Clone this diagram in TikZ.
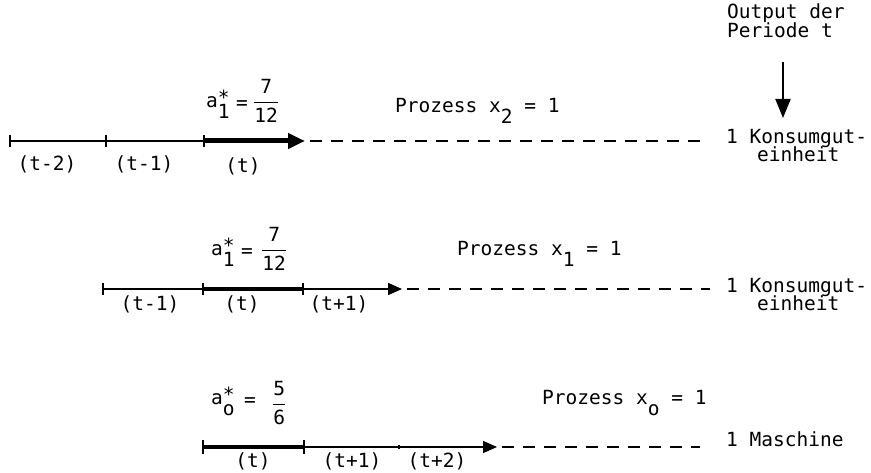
\documentclass[tikz,border=0pt]{standalone}
\usepackage{fontspec}
\setmonofont{DejaVu Sans Mono}
\usetikzlibrary{arrows.meta,positioning}
\newcommand\supsub[2]{\rlap{\raisebox{.15em}{#1}}\raisebox{-.6em}{#2}}
\newcommand\lowr[1]{\raisebox{-.6em}{#1}}
\newcommand\bruch[2]{$\displaystyle{\mbox{#1}\above1.5pt\mbox{#2}}$}

\begin{document}
\begin{tikzpicture}[x=1pt,y=-1pt,
 every node/.style={font=\ttfamily\fontsize{19.5}{23}\selectfont,inner sep=0pt},
 lbl/.style={anchor=mid west},
 ln/.style={line width=1.5pt},
 dsh/.style={line width=1.5pt,dash pattern=on 12pt off 9pt},
 thk/.style={line width=4pt},
 arr/.style={line width=1.5pt,-{Triangle[length=14pt,width=12pt]}}]
\useasboundingbox (0,0) rectangle (871,473);

% output of period t
\node[lbl] (o1) at (727,16) {Output der};
\node[lbl] (o2) at (727,35) {Periode t};
\coordinate (ot) at (783,62);
\coordinate (ob) at (783,118);
\draw[line width=2pt,-{Triangle[length=19pt,width=15pt]}] (ot)--(ob);

% process x2
\coordinate (r1a) at (10,141);\coordinate (r1b) at (106,141);\coordinate (r1c) at (204,141);
\coordinate (r1d) at (305,141);\coordinate (r1e) at (708,141);
\draw[ln](r1a)--(r1c);
\draw[line width=5pt,-{Triangle[length=17pt,width=15pt]}](r1c)--(r1d);
\draw[dsh]([xshift=5pt]r1d)--(r1e);
\foreach \c in {r1a,r1b,r1c} \draw[ln]([yshift=6pt]\c)--([yshift=-6pt]\c);
\node (p1a) at (47,164) {(t-2)};
\node (p1b) at (144,164) {(t-1)};
\node (p1c) at (243,166) {(t)};
\node[lbl] (a1) at (206,105) {a\supsub{*}{1}};
\node (e1) at (242,105) {=};
\node[anchor=west] (f1) at (253,101) {\bruch{7}{12}};
\node[lbl] (x2) at (395,110) {Prozess x\lowr{2} = 1};
\node[lbl] (k1) at (726,141) {1 Konsumgut-};
\node[lbl] (k1b) at (757,159) {einheit};

% process x1
\coordinate (r2a) at (103,289);\coordinate (r2b) at (203,289);\coordinate (r2c) at (303,289);
\coordinate (r2d) at (402,289);\coordinate (r2e) at (710,289);
\draw[ln](r2a)--(r2b);
\draw[thk](r2b)--(r2c);
\draw[arr](r2c)--(r2d);
\draw[dsh]([xshift=5pt]r2d)--(r2e);
\foreach \c in {r2a,r2b,r2c} \draw[ln]([yshift=6pt]\c)--([yshift=-6pt]\c);
\node (p2a) at (150,304) {(t-1)};
\node (p2b) at (242,304) {(t)};
\node (p2c) at (339,304) {(t+1)};
\node[lbl] (a2) at (211,253) {a\supsub{*}{1}};
\node (e2) at (247,253) {=};
\node[anchor=west] (f2) at (261,249) {\bruch{7}{12}};
\node[lbl] (x1) at (457,253) {Prozess x\lowr{1} = 1};
\node[lbl] (k2) at (726,290) {1 Konsumgut-};
\node[lbl] (k2b) at (757,308) {einheit};

% process x0
\coordinate (r3a) at (203,447);\coordinate (r3b) at (304,447);\coordinate (r3m) at (399,447);
\coordinate (r3d) at (497,447);\coordinate (r3e) at (700,447);
\draw[thk](r3a)--(r3b);
\draw[arr](r3b)--(r3d);
\draw[dsh]([xshift=5pt]r3d)--(r3e);
\foreach \c in {r3a,r3b} \draw[ln]([yshift=7pt]\c)--([yshift=-7pt]\c);
\draw[ln]([yshift=2pt]r3m)--([yshift=-2pt]r3m);
\node (p3a) at (253,461) {(t)};
\node (p3b) at (352,461) {(t+1)};
\node (p3c) at (437,461) {(t+2)};
\node[lbl] (a3) at (211,402) {a\supsub{*}{o}};
\node (e3) at (250,402) {=};
\node[anchor=west] (f3) at (272,403) {\bruch{5}{6}};
\node[lbl] (x0) at (542,402) {Prozess x\lowr{o} = 1};
\node[lbl] (m3) at (726,444) {1 Maschine};
\end{tikzpicture}
\end{document}
